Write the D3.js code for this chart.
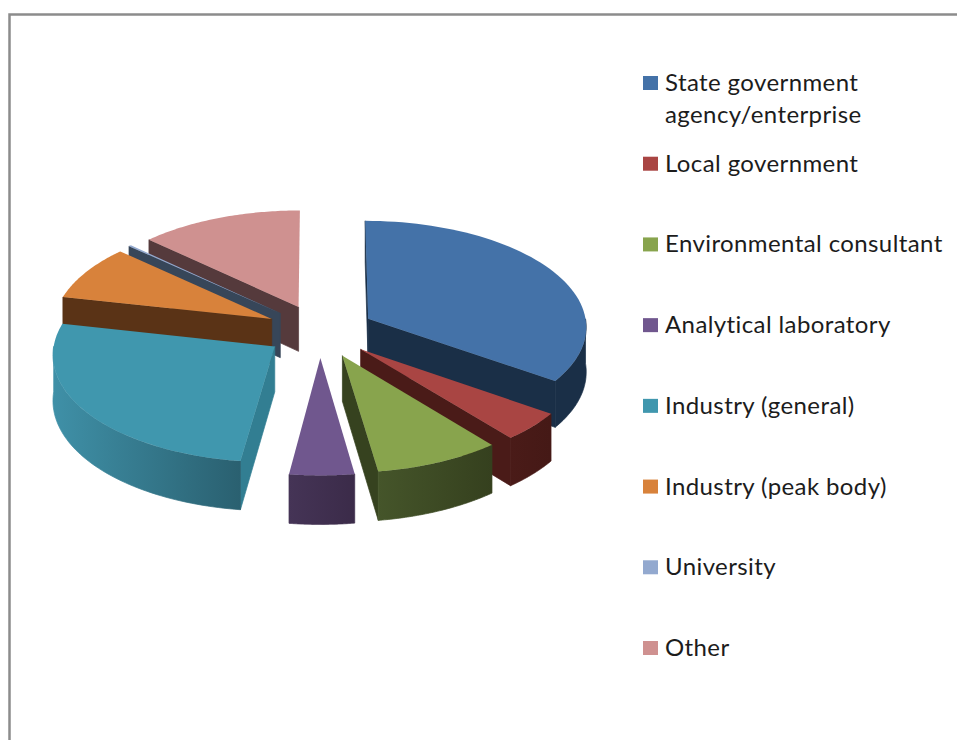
<!DOCTYPE html>
<html>
<head>
<meta charset="utf-8">
<style>
  html, body { margin: 0; padding: 0; background: #fff; overflow: hidden; }
  text { font-family: Lato, "Open Sans", sans-serif; fill: #1c1c1c; }
</style>
<script src="https://cdn.jsdelivr.net/npm/d3@7/dist/d3.min.js"></script>
</head>
<body>
<svg id="chart" width="957" height="740"></svg>
<script>
// Respondent sectors, share of responses (%)
const categories = [
  ["State government", "agency/enterprise"],
  ["Local government"],
  ["Environmental consultant"],
  ["Analytical laboratory"],
  ["Industry (general)"],
  ["Industry (peak body)"],
  ["University"],
  ["Other"]
];
const shares = [34.7, 4.4, 8.6, 4.4, 26.3, 8.4, 0.2, 13.0];

const topColors  = ["#4472a8", "#a94543", "#88a44d", "#70578e", "#4097ae", "#d8823b", "#93a9cf", "#cf9190"];
const edgeColors = ["#1a2f47", "#4a1b18", "#36421f", "#40304f", "#327e92", "#5a3316", "#374659", "#553a3c"];
const rimStops = [
  ["#1a2f47", "#1a2f47"],
  ["#4a1b18", "#451916"],
  ["#45552a", "#35401e"],
  ["#453456", "#3b2b49"],
  ["#3f90a7", "#2a6070"],
  ["#5a3316", "#5a3316"],
  ["#374659", "#374659"],
  ["#553a3c", "#553a3c"]
];

const width = 957, height = 740;
const svg = d3.select("#chart");
const defs = svg.append("defs");

// Tilted disc: horizontal and vertical radii, perspective strength, wall height, slice pull-out
const cx = 320, cy = 331, rx = 219, ry = 106, persp = 0.066, depth = 45, explode = 0.25;

const pie = d3.pie().sort(null).value(d => d);
const arcs = pie(shares).map((a, i) => ({ ...a, i, mid: (a.startAngle + a.endAngle) / 2 }));

// Project a point on the unit disc (u right, v away from the viewer) to the page
function project(u, v, drop) {
  const s = 1 / (1 + persp * v);
  return [cx + rx * u * s, cy - ry * v * s + drop * s];
}
function slicePoint(a, r, theta, drop) {
  const u = r * Math.sin(theta) + explode * Math.sin(a.mid);
  const v = r * Math.cos(theta) + explode * Math.cos(a.mid);
  return project(u, v, drop);
}
const line = d3.line();
const sweep = (from, to) => d3.range(0, 61).map(k => from + (to - from) * k / 60);

function topPath(a) {
  const rim = sweep(a.startAngle, a.endAngle).map(t => slicePoint(a, 1, t, 0));
  return line([slicePoint(a, 0, 0, 0), ...rim]) + "Z";
}
function wallPath(a, theta) {
  return line([
    slicePoint(a, 0, 0, 0), slicePoint(a, 1, theta, 0),
    slicePoint(a, 1, theta, depth), slicePoint(a, 0, 0, depth)
  ]) + "Z";
}
function rimPath(a, from, to) {
  const ts = sweep(from, to);
  return line([
    ...ts.map(t => slicePoint(a, 1, t, 0)),
    ...ts.slice().reverse().map(t => slicePoint(a, 1, t, depth))
  ]) + "Z";
}

// Paint far slices first so nearer ones overlap them
const order = arcs.slice().sort((p, q) => Math.cos(q.mid) - Math.cos(p.mid));
const plot = svg.append("g");

order.forEach(a => {
  const g = plot.append("g");
  if (Math.sin(a.endAngle) >= -1e-6 && a.endAngle <= Math.PI) {
    g.append("path").attr("d", wallPath(a, a.endAngle))
      .attr("fill", edgeColors[a.i]).attr("stroke", edgeColors[a.i]).attr("stroke-width", 0.7);
  }
  if (Math.sin(a.startAngle) < 1e-6) {
    g.append("path").attr("d", wallPath(a, a.startAngle))
      .attr("fill", edgeColors[a.i]).attr("stroke", edgeColors[a.i]).attr("stroke-width", 0.7);
  }
  const from = Math.max(a.startAngle, Math.PI / 2);
  const to = Math.min(a.endAngle, 3 * Math.PI / 2);
  if (to > from) {
    const xs = [slicePoint(a, 1, from, 0)[0], slicePoint(a, 1, to, 0)[0]];
    const id = "rim" + a.i;
    const grad = defs.append("linearGradient").attr("id", id)
      .attr("gradientUnits", "userSpaceOnUse")
      .attr("x1", d3.min(xs)).attr("x2", d3.max(xs)).attr("y1", 0).attr("y2", 0);
    grad.append("stop").attr("offset", 0).attr("stop-color", rimStops[a.i][0]);
    grad.append("stop").attr("offset", 1).attr("stop-color", rimStops[a.i][1]);
    g.append("path").attr("d", rimPath(a, from, to))
      .attr("fill", `url(#${id})`).attr("stroke", `url(#${id})`).attr("stroke-width", 0.7);
  }
  g.append("path").attr("d", topPath(a)).attr("fill", topColors[a.i]);
});

// Outer frame of the chart area
svg.append("path")
  .attr("d", line([[9.5, height], [9.5, 14.5], [width, 14.5]]))
  .attr("fill", "none").attr("stroke", "#8c8c8c").attr("stroke-width", 2.5);

// Legend
const legendY = d3.scalePoint().domain(d3.range(categories.length)).range([83, 648]);
const legend = svg.append("g");
categories.forEach((lines, i) => {
  const y = legendY(i);
  legend.append("rect")
    .attr("x", 643).attr("y", y - 7).attr("width", 15).attr("height", 14)
    .attr("fill", topColors[i]);
  lines.forEach((t, j) => {
    legend.append("text")
      .attr("x", 665).attr("y", y + 8 + j * 32)
      .attr("font-size", 24).attr("letter-spacing", 0.4)
      .text(t);
  });
});
</script>
</body>
</html>
